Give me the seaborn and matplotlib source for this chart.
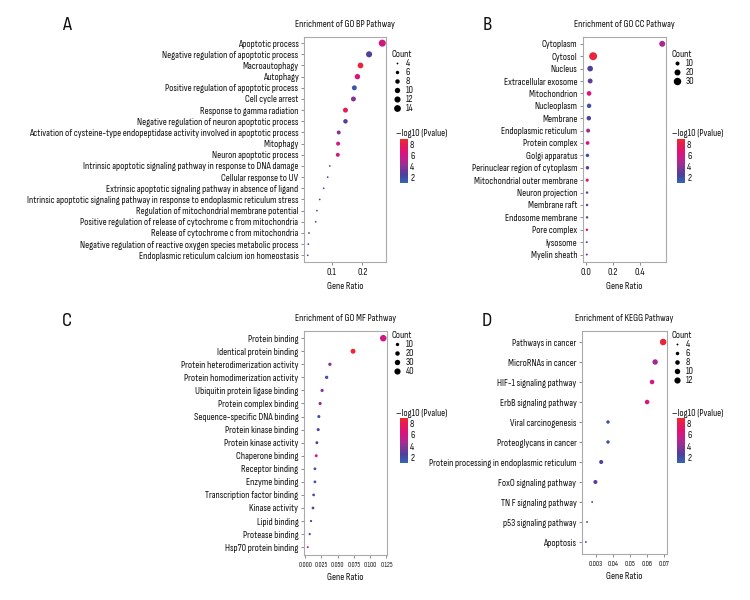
import numpy as np
import pandas as pd
import matplotlib
matplotlib.use("Agg")
import matplotlib.pyplot as plt
import seaborn as sns
from matplotlib.colors import LinearSegmentedColormap, Normalize
from matplotlib.cm import ScalarMappable
from matplotlib.lines import Line2D

# ---------------- data ----------------
bp_terms = ["Apoptotic process", "Negative regulation of apoptotic process", "Macroautophagy", "Autophagy",
            "Positive regulation of apoptotic process", "Cell cycle arrest", "Response to gamma radiation",
            "Negative regulation of neuron apoptotic process",
            "Activation of cysteine-type endopeptidase activity involved in apoptotic process",
            "Mitophagy", "Neuron apoptotic process",
            "Intrinsic apoptotic signaling pathway in response to DNA damage", "Cellular response to UV",
            "Extrinsic apoptotic signaling pathway in absence of ligand",
            "Intrinsic apoptotic signaling pathway in response to endoplasmic reticulum stress",
            "Regulation of mitochondrial membrane potential",
            "Positive regulation of release of cytochrome c from mitochondria",
            "Release of cytochrome c from mitochondria",
            "Negative regulation of reactive oxygen species metabolic process",
            "Endoplasmic reticulum calcium ion homeostasis"]
bp_ratio = [0.265, 0.222, 0.194, 0.184, 0.174, 0.171, 0.145, 0.145, 0.123, 0.121, 0.120,
            0.094, 0.087, 0.074, 0.061, 0.052, 0.048, 0.026, 0.024, 0.022]
bp_count = [15, 12, 11, 10, 9, 9, 9, 8, 7, 7, 7, 4, 4, 4, 4, 4, 4, 4, 4, 4]
bp_logp = [6.0, 2.7, 8.5, 6.5, 1.8, 3.8, 8.0, 2.8, 3.8, 6.2, 6.2, 2.0, 2.4, 2.5, 2.4, 2.5, 2.5, 2.8, 2.9, 3.0]
bp_legend = [4, 6, 8, 10, 12, 14]

cc_terms = ["Cytoplasm", "Cytosol", "Nucleus", "Extracellular exosome", "Mitochondrion", "Nucleoplasm",
            "Membrane", "Endoplasmic reticulum", "Protein complex", "Golgi apparatus",
            "Perinuclear region of cytoplasm", "Mitochondrial outer membrane", "Neuron projection",
            "Membrane raft", "Endosome membrane", "Pore complex", "lysosome", "Myelin sheath"]
cc_ratio = [0.563, 0.052, 0.030, 0.030, 0.022, 0.022, 0.020, 0.015, 0.011, 0.010, 0.010, 0.008,
            0.007, 0.007, 0.007, 0.006, 0.005, 0.005]
cc_count = [20, 34, 18, 14, 13, 12, 12, 10, 9, 8, 8, 7, 5, 5, 5, 5, 4, 4]
cc_logp = [4.8, 8.5, 2.6, 3.0, 6.5, 2.0, 2.7, 4.6, 6.5, 2.0, 3.0, 7.5, 2.8, 3.0, 3.0, 8.0, 1.8, 2.8]
cc_legend = [10, 20, 30]

mf_terms = ["Protein binding", "Identical protein binding", "Protein heterodimerization activity",
            "Protein homodimerization activity", "Ubiquitin protein ligase binding", "Protein complex binding",
            "Sequence-specific DNA binding", "Protein kinase binding", "Protein kinase activity",
            "Chaperone binding", "Receptor binding", "Enzyme binding", "Transcription factor binding",
            "Kinase activity", "Lipid binding", "Protease binding", "Hsp70 protein binding"]
mf_ratio = [0.120, 0.0736, 0.038, 0.033, 0.026, 0.023, 0.021, 0.020, 0.018, 0.017, 0.015, 0.015,
            0.013, 0.012, 0.009, 0.007, 0.004]
mf_count = [45, 25, 10, 10, 9, 9, 8, 8, 7, 7, 6, 6, 6, 6, 3, 3, 2]
mf_logp = [6.0, 8.6, 4.0, 2.0, 3.8, 4.5, 2.0, 2.5, 2.5, 6.5, 2.0, 2.0, 2.2, 2.2, 2.5, 2.5, 5.5]
mf_legend = [10, 20, 30, 40]

kegg_terms = ["Pathways in cancer", "MicroRNAs in cancer", "HIF-1 signaling pathway", "ErbB signaling pathway",
              "Viral carcinogenesis", "Proteoglycans in cancer", "Protein processing in endoplasmic reticulum",
              "FoxO signaling pathway", "TN F signaling pathway", "p53 signaling pathway", "Apoptosis"]
kegg_ratio = [0.0694, 0.0647, 0.0629, 0.0600, 0.037, 0.037, 0.033, 0.0296, 0.0277, 0.0247, 0.024]
kegg_count = [13, 10, 8, 8, 6, 6, 7, 7, 4, 4, 4]
kegg_logp = [8.5, 4.5, 6.0, 6.2, 1.8, 1.8, 2.5, 3.0, 2.5, 3.0, 3.0]
kegg_legend = [4, 6, 8, 10, 12]
kegg_xticks = [0.03, 0.04, 0.05, 0.06, 0.07]
kegg_xticklabels = ["0.003", "0.04", "0.05", "0.06", "0.07"]

titles = ["Enrichment of GO BP Pathway", "Enrichment of GO CC Pathway",
          "Enrichment of GO MF Pathway", "Enrichment of KEGG Pathway"]
letters = ["A", "B", "C", "D"]

# ---------------- style ----------------
sns.set_theme(style="white")
FONT = ["Sofia Sans Condensed", "Fira Sans Condensed", "DejaVu Sans"]
plt.rcParams["font.family"] = FONT
plt.rcParams["axes.unicode_minus"] = True
for key in ["text.color", "axes.labelcolor", "xtick.labelcolor", "ytick.labelcolor"]:
    plt.rcParams[key] = "#111111"

cmap = LinearSegmentedColormap.from_list(
    "pv", [(0.0, "#3268b4"), (0.18, "#4a409c"), (0.37, "#8a3396"), (0.56, "#c2208a"),
           (0.69, "#dc137a"), (0.885, "#e61c50"), (1.0, "#ee2b2b")])
hue_norm = (1.1, 8.9)

W, H = 750, 600
fig = plt.figure(figsize=(7.5, 6), dpi=100)
renderer = fig.canvas.get_renderer()

# fit the y-label font so the longest label spans what the reference shows (~268 px)
probe = fig.text(0, 0, bp_terms[8], fontsize=10)
wpx = probe.get_window_extent(renderer).width
probe.remove()
YFS = min(7.6, 10 * 268.0 / wpx)
FS = max(6.6, min(7.4, YFS))


def rect(x0, y0, x1, y1):
    return [x0 / W, 1 - y1 / H, (x1 - x0) / W, (y1 - y0) / H]


panels = [
    dict(terms=bp_terms, ratio=bp_ratio, count=bp_count, logp=bp_logp, leg=bp_legend,
         box=(304, 37, 386, 262), snorm=(4, 15), sizes=(1.6, 26.0), xt=[0.1, 0.2], xtl=["0.1", "0.2"], xfs=FS,
         letter=(67, 25), legxy=(391, 50), cbar=(400, 139, 408, 183), cbl=(396, 133)),
    dict(terms=cc_terms, ratio=cc_ratio, count=cc_count, logp=cc_logp, leg=cc_legend,
         box=(583, 37, 666, 262), snorm=(4, 34), sizes=(2.1, 33.0), xt=[0.0, 0.2, 0.4], xtl=["0.0", "0.2", "0.4"],
         xfs=FS, letter=(487, 25), legxy=(671, 50), cbar=(677, 139, 685, 183), cbl=(672, 133)),
    dict(terms=mf_terms, ratio=mf_ratio, count=mf_count, logp=mf_logp, leg=mf_legend,
         box=(304, 331, 387, 555), snorm=(2, 45), sizes=(2.1, 22.0),
         xt=[0.0, 0.025, 0.05, 0.075, 0.1, 0.125], xtl=["0.000", "0.025", "0.050", "0.075", "0.100", "0.125"],
         xfs=5.0, letter=(67, 321), legxy=(391, 331), cbar=(400, 418, 408, 463), cbl=(396, 413)),
    dict(terms=kegg_terms, ratio=kegg_ratio, count=kegg_count, logp=kegg_logp, leg=kegg_legend,
         box=(582, 331, 667, 554), snorm=(4, 13), sizes=(1.8, 22.0), xt=kegg_xticks, xtl=kegg_xticklabels,
         xfs=5.2, letter=(487, 321), legxy=(671, 331), cbar=(677, 418, 685, 463), cbl=(672, 413)),
]

for i, p in enumerate(panels):
    ax = fig.add_axes(rect(*p["box"]))
    df = pd.DataFrame({"term": p["terms"], "ratio": p["ratio"], "count": p["count"], "logp": p["logp"]})
    sns.scatterplot(data=df, x="ratio", y="term", hue="logp", size="count", palette=cmap,
                    hue_norm=hue_norm, size_norm=p["snorm"], sizes=p["sizes"], legend=False,
                    edgecolor="none", linewidth=0, ax=ax)
    n = len(p["terms"])
    ax.set_ylim(n - 1 + 0.6, -0.55)
    ax.set_xticks(p["xt"])
    ax.set_xticklabels(p["xtl"], fontsize=p["xfs"])
    ax.tick_params(axis="y", labelsize=YFS, length=2.5, width=0.6, pad=1.5, color="#777777", left=True)
    ax.tick_params(axis="x", length=2.5, width=0.6, pad=1.5, color="#777777", bottom=True)
    ax.set_ylabel("")
    ax.set_xlabel("Gene Ratio", fontsize=FS, labelpad=4)
    ax.set_title(titles[i], fontsize=FS, pad=7)
    for s in ax.spines.values():
        s.set_color("#aaaaaa")
        s.set_linewidth(0.8)
    ax.grid(False)

    fig.text(p["letter"][0] / W, 1 - p["letter"][1] / H, letters[i], fontsize=15,
             ha="center", va="center")

    # size legend (same linear area mapping as the scatter)
    lo, hi = p["snorm"]
    smin, smax = p["sizes"]
    handles = []
    for v in p["leg"]:
        s = smin + (v - lo) / (hi - lo) * (smax - smin)
        handles.append(Line2D([], [], marker="o", ls="", color="black", markeredgewidth=0,
                              markersize=np.sqrt(s)))
    leg = ax.legend(handles, [str(v) for v in p["leg"]], title="Count", loc="upper left",
                    bbox_to_anchor=(p["legxy"][0] / W, 1 - p["legxy"][1] / H),
                    bbox_transform=fig.transFigure, frameon=False, fontsize=FS, title_fontsize=FS,
                    labelspacing=0.0, handletextpad=0.3, borderpad=0, handlelength=1.2,
                    borderaxespad=0, alignment="left")

    # colour bar
    cax = fig.add_axes(rect(*p["cbar"]))
    sm = ScalarMappable(norm=Normalize(*hue_norm), cmap=cmap)
    cb = fig.colorbar(sm, cax=cax, ticks=[2, 4, 6, 8])
    cb.outline.set_visible(False)
    cb.ax.tick_params(length=0, labelsize=FS, pad=1.5)
    fig.text(p["cbl"][0] / W, 1 - p["cbl"][1] / H, "\u2013log10 (Pvalue)", fontsize=FS,
             ha="left", va="center")

fig.savefig("out.png", dpi=100)
